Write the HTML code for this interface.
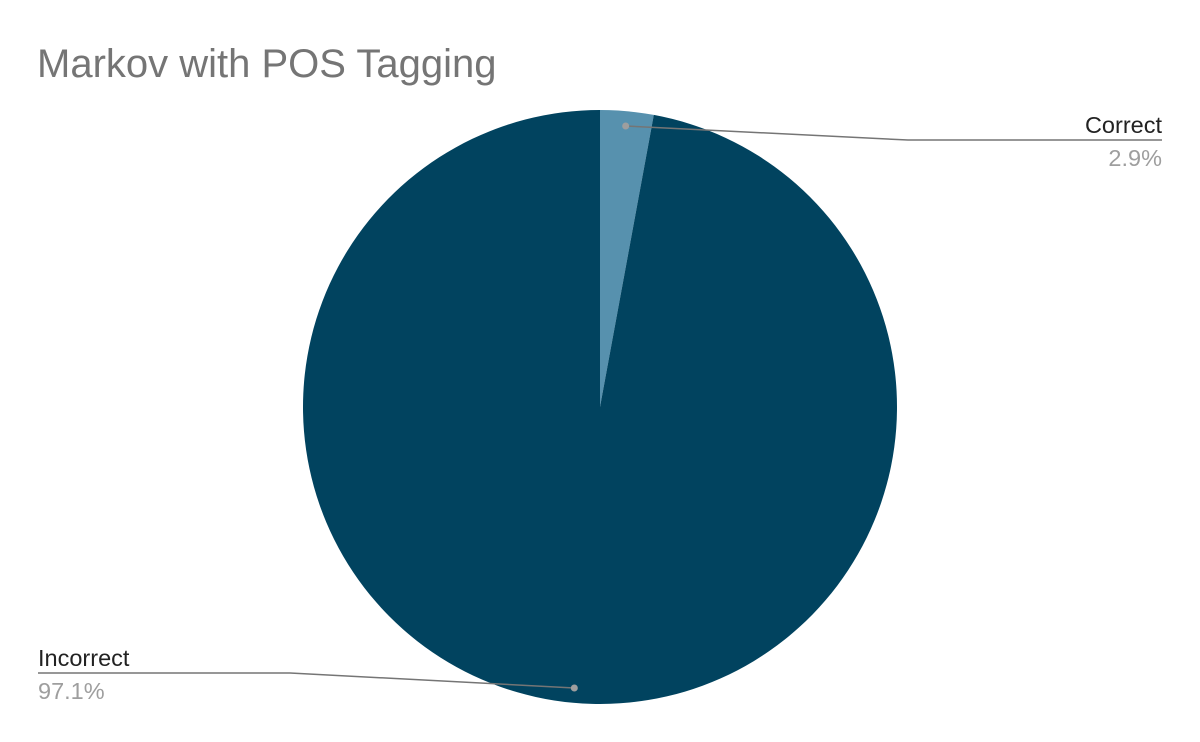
<!DOCTYPE html>
<html>
<head>
<meta charset="utf-8">
<style>
  html, body { margin: 0; padding: 0; background: #ffffff; }
  svg { display: block; }
  text { font-family: "Liberation Sans", Arial, sans-serif; }
</style>
</head>
<body>
<svg id="chart" width="1200" height="742" viewBox="0 0 1200 742">
  <rect x="0" y="0" width="1200" height="742" fill="#ffffff"/>
  <text x="37" y="77" font-size="40" fill="#757575">Markov with POS Tagging</text>
  <g id="slices"></g>
  <g id="labels"></g>
</svg>
<script>
const categories = ["Correct", "Incorrect"];
const values = [2.9, 97.1];
const valueLabels = ["2.9%", "97.1%"];
const colors = ["#5791ae", "#01435f"];

const NS = "http://www.w3.org/2000/svg";
const cx = 600, cy = 407, r = 297;
const total = values.reduce((a, b) => a + b, 0);
const slicesG = document.getElementById("slices");
const labelsG = document.getElementById("labels");

function pt(angle, rad) {
  return [cx + rad * Math.sin(angle), cy - rad * Math.cos(angle)];
}

let start = 0;
values.forEach((v, i) => {
  const sweep = v / total * Math.PI * 2;
  const end = start + sweep;
  const [x1, y1] = pt(start, r);
  const [x2, y2] = pt(end, r);
  const large = sweep > Math.PI ? 1 : 0;
  const p = document.createElementNS(NS, "path");
  p.setAttribute("d", `M${cx},${cy} L${x1},${y1} A${r},${r} 0 ${large} 1 ${x2},${y2} Z`);
  p.setAttribute("fill", colors[i]);
  
  
  slicesG.appendChild(p);

  const mid = start + sweep / 2;
  const [dx, dy] = pt(mid, r * 0.95);
  const right = Math.sin(mid) >= 0;
  const elbowX = right ? 908 : 290;
  const elbowY = dy + (right ? 14 : -15);
  const endX = right ? 1162 : 38;
  const line = document.createElementNS(NS, "polyline");
  line.setAttribute("points", `${dx},${dy} ${elbowX},${elbowY} ${endX},${elbowY}`);
  line.setAttribute("fill", "none");
  line.setAttribute("stroke", "#757575");
  line.setAttribute("stroke-width", "1.5");
  
  
  labelsG.appendChild(line);

  const dot = document.createElementNS(NS, "circle");
  dot.setAttribute("cx", dx);
  dot.setAttribute("cy", dy);
  dot.setAttribute("r", 3.5);
  dot.setAttribute("fill", "#9e9e9e");
  
  
  labelsG.appendChild(dot);

  const anchor = right ? "end" : "start";
  const t1 = document.createElementNS(NS, "text");
  t1.setAttribute("x", endX);
  t1.setAttribute("y", elbowY - 7);
  t1.setAttribute("font-size", "23.5");
  t1.setAttribute("fill", "#222222");
  t1.setAttribute("text-anchor", anchor);
  t1.textContent = categories[i];
  
  
  labelsG.appendChild(t1);

  const t2 = document.createElementNS(NS, "text");
  t2.setAttribute("x", endX);
  t2.setAttribute("y", elbowY + 26);
  t2.setAttribute("font-size", "23.5");
  t2.setAttribute("fill", "#9e9e9e");
  t2.setAttribute("text-anchor", anchor);
  t2.textContent = valueLabels[i];
  
  
  labelsG.appendChild(t2);

  start = end;
});
</script>
</body>
</html>
